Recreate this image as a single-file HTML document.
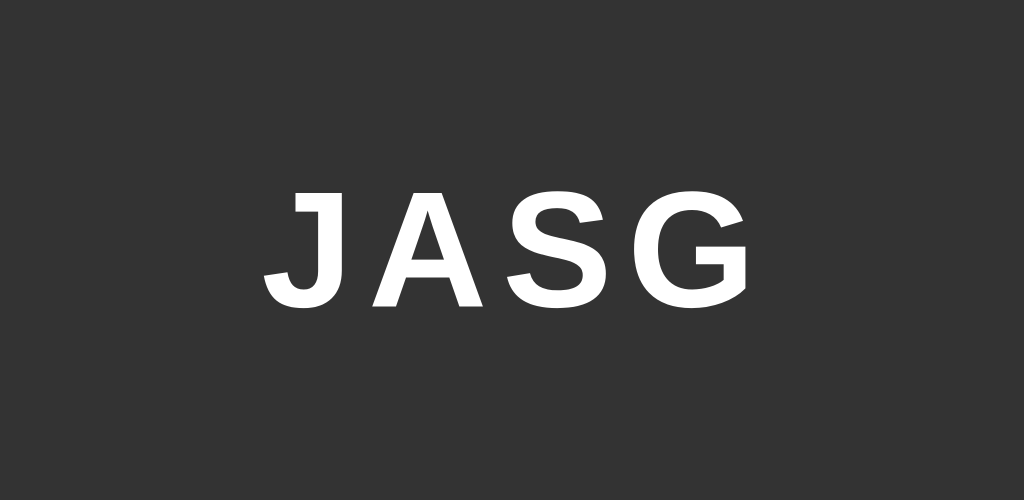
<!DOCTYPE html>
<html>
<head>
<meta charset="utf-8">
<style>
  html, body { margin: 0; padding: 0; }
  body { width: 1024px; height: 500px; background: #333333; overflow: hidden; position: relative; }
  .logo {
    position: absolute;
    left: -11px; width: 1024px;
    top: 250px;
    transform: translateY(-50%);
    text-align: center;
    font-family: "Liberation Sans", "DejaVu Sans", sans-serif;
    font-weight: bold;
    font-size: 165px;
    line-height: 1;
    letter-spacing: 15px;
    color: #ffffff;
    padding-left: 15px;
  }
</style>
</head>
<body>
  <div class="logo">JASG</div>
</body>
</html>
